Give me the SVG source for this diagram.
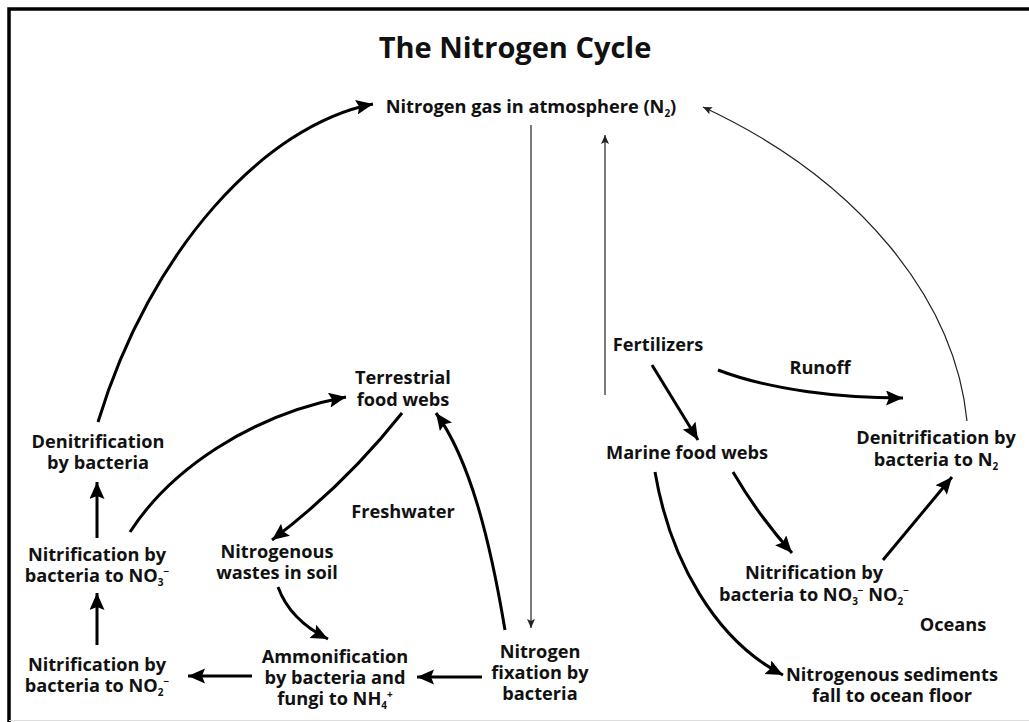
<svg xmlns="http://www.w3.org/2000/svg" width="1029" height="722" viewBox="0 0 1029 722">
<defs>
<style>
text{font-family:"Open Sans","Liberation Sans",sans-serif;font-weight:700;font-size:18.2px;fill:#111;text-anchor:middle}
.title{font-size:29px}
.big{fill:none;stroke:#000;stroke-width:3;marker-end:url(#ab)}
.thin{fill:none;stroke:#222;stroke-width:1.2;marker-end:url(#at)}
.sub{font-size:10px}
</style>
<marker id="ab" markerUnits="userSpaceOnUse" markerWidth="18" markerHeight="16" refX="17" refY="7.5" orient="auto"><path d="M0,0 L17,7.5 L0,15 L3,7.5 Z" fill="#000"/></marker>
<marker id="at" markerUnits="userSpaceOnUse" markerWidth="10" markerHeight="8" refX="9" refY="4" orient="auto"><path d="M0,0 L9,4 L0,8 L2,4 Z" fill="#222"/></marker>
</defs>
<rect width="1029" height="722" fill="#fff"/>
<path d="M9,722 V9 H1029" fill="none" stroke="#000" stroke-width="3.5"/>
<line x1="9" y1="720.5" x2="1029" y2="720.5" stroke="#ddd" stroke-width="1"/>
<text class="title" x="515" y="58">The Nitrogen Cycle</text>
<g id="connectors">
<path class="big" d="M98,422 C150,250 265,125 373,104"/>
<path class="thin" d="M531,125 V628"/>
<path class="thin" d="M605,395 V135"/>
<path class="thin" d="M967,421 C955,300 860,180 703,107"/>
<path class="big" d="M97,645 V593"/>
<path class="big" d="M97,538 V482"/>
<path class="big" d="M252,676 H188"/>
<path class="big" d="M482,677 H417"/>
<path class="big" d="M130,532 C170,470 250,415 346,397"/>
<path class="big" d="M402,413 Q345,485 272,540"/>
<path class="big" d="M278,587 Q290,620 328,639"/>
<path class="big" d="M505,630 C490,540 470,460 436,413"/>
<path class="big" d="M652,365 L698,440"/>
<path class="big" d="M718,370 C770,390 840,398 903,398"/>
<path class="big" d="M733,472 Q758,515 792,553"/>
<path class="big" d="M655,472 C670,560 715,640 783,675"/>
<path class="big" d="M883,560 L952,477"/>
</g>
<g id="n_atm"><text x="531" y="113">Nitrogen gas in atmosphere (N<tspan class="sub" dy="4">2</tspan><tspan dy="-4">)</tspan></text></g>
<g id="n_denit_l"><text x="98" y="448">Denitrification<tspan x="98" dy="21">by bacteria</tspan></text></g>
<g id="n_nitr3"><text x="97" y="561">Nitrification by<tspan x="97" dy="21">bacteria to NO</tspan><tspan class="sub" dy="4">3</tspan><tspan class="sub" dy="-11">−</tspan></text></g>
<g id="n_nitr2"><text x="97" y="671">Nitrification by<tspan x="97" dy="21">bacteria to NO</tspan><tspan class="sub" dy="4">2</tspan><tspan class="sub" dy="-11">−</tspan></text></g>
<g id="n_terr"><text x="403" y="384">Terrestrial<tspan x="403" dy="22">food webs</tspan></text></g>
<g id="n_wastes"><text x="277" y="558">Nitrogenous<tspan x="277" dy="21">wastes in soil</tspan></text></g>
<g id="n_ammon"><text x="335" y="663">Ammonification<tspan x="335" dy="21">by bacteria and</tspan><tspan x="335" dy="21">fungi to NH</tspan><tspan class="sub" dy="4">4</tspan><tspan class="sub" dy="-11">+</tspan></text></g>
<g id="n_fix"><text x="540" y="658">Nitrogen<tspan x="540" dy="21">fixation by</tspan><tspan x="540" dy="21">bacteria</tspan></text></g>
<g id="l_fresh"><text x="403" y="518">Freshwater</text></g>
<g id="n_fert"><text x="658" y="351">Fertilizers</text></g>
<g id="l_runoff"><text x="820" y="374">Runoff</text></g>
<g id="n_marine"><text x="687" y="459">Marine food webs</text></g>
<g id="n_denit_r"><text x="936" y="444">Denitrification by<tspan x="936" dy="22">bacteria to N</tspan><tspan class="sub" dy="4">2</tspan></text></g>
<g id="n_nitr_o"><text x="814" y="579">Nitrification by<tspan x="814" dy="22">bacteria to NO</tspan><tspan class="sub" dy="4">3</tspan><tspan class="sub" dy="-11">−</tspan><tspan dy="7"> NO</tspan><tspan class="sub" dy="4">2</tspan><tspan class="sub" dy="-11">−</tspan></text></g>
<g id="l_oceans"><text x="953" y="631">Oceans</text></g>
<g id="n_sed"><text x="892" y="681">Nitrogenous sediments<tspan x="892" dy="21">fall to ocean floor</tspan></text></g>
</svg>
